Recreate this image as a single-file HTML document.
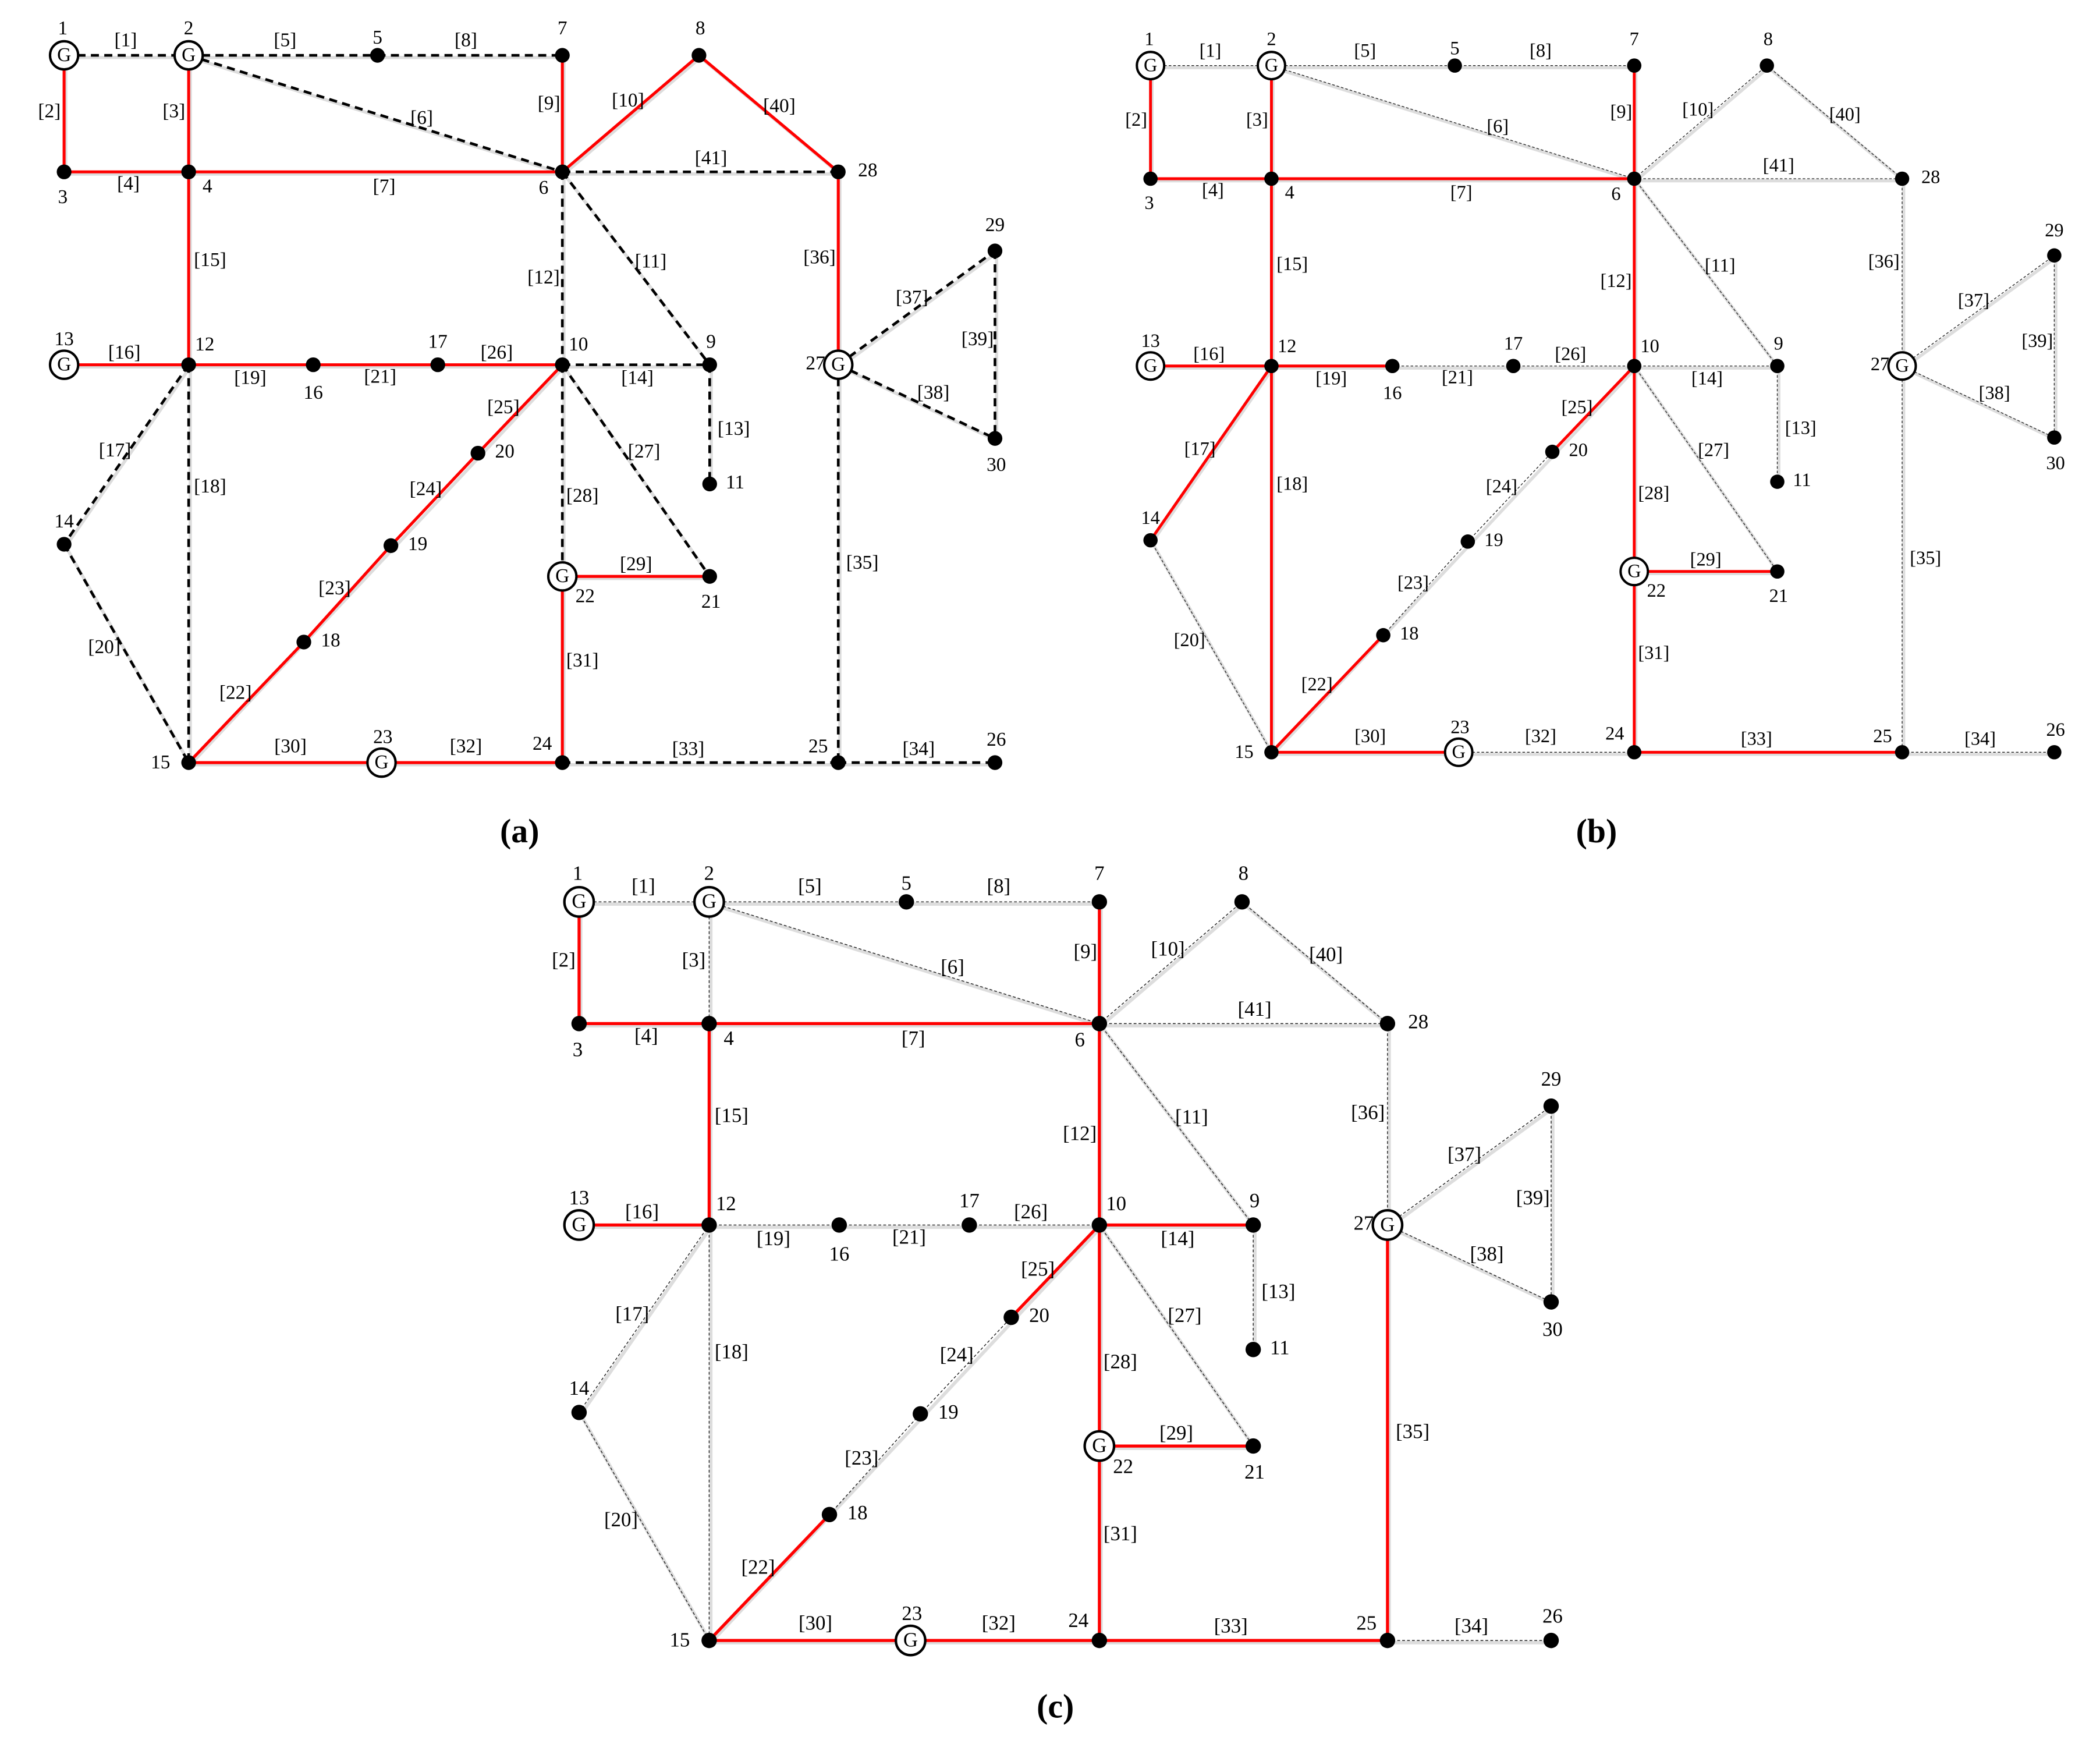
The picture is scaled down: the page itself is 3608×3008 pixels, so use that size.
<!DOCTYPE html>
<html><head><meta charset="utf-8"><style>
html,body{margin:0;padding:0;background:#fff;}
svg{display:block;}
text{font-family:"Liberation Serif",serif;font-size:14.5px;fill:#000;text-anchor:middle;dominant-baseline:middle;}
.r{stroke:#ff0000;stroke-width:2.2;fill:none;}
.d{stroke:#000;stroke-width:2;stroke-dasharray:6,4;fill:none;}
.g{stroke:#222;stroke-width:0.6;stroke-dasharray:2,1.5;fill:none;}
.s line{stroke:#ddd;stroke-width:2.4;}
.t{font-size:25px;font-weight:bold;}
</style></head><body>
<svg width="3608" height="3008" viewBox="0 0 1560 1300.6" xmlns="http://www.w3.org/2000/svg">
<rect width="1560" height="1301" fill="#fff"/>

<!-- PANEL A -->
<g transform="translate(-0.16,0.3) scale(0.995)">
<g class="s" transform="translate(1.2,1.6)">
<line x1="48" y1="41" x2="141" y2="41"/><line x1="48" y1="41" x2="48" y2="128"/><line x1="141" y1="41" x2="141" y2="128"/><line x1="48" y1="128" x2="141" y2="128"/><line x1="141" y1="41" x2="282" y2="41"/><line x1="141" y1="41" x2="420" y2="128"/><line x1="141" y1="128" x2="420" y2="128"/><line x1="282" y1="41" x2="420" y2="41"/><line x1="420" y1="41" x2="420" y2="128"/><line x1="420" y1="128" x2="522" y2="41"/><line x1="420" y1="128" x2="530" y2="272"/><line x1="420" y1="128" x2="420" y2="272"/><line x1="530" y1="272" x2="530" y2="361"/><line x1="420" y1="272" x2="530" y2="272"/><line x1="141" y1="128" x2="141" y2="272"/><line x1="48" y1="272" x2="141" y2="272"/><line x1="141" y1="272" x2="48" y2="406"/><line x1="141" y1="272" x2="141" y2="569"/><line x1="141" y1="272" x2="234" y2="272"/><line x1="48" y1="406" x2="141" y2="569"/><line x1="234" y1="272" x2="327" y2="272"/><line x1="141" y1="569" x2="420" y2="272"/><line x1="327" y1="272" x2="420" y2="272"/><line x1="420" y1="272" x2="530" y2="430"/><line x1="420" y1="272" x2="420" y2="569"/><line x1="420" y1="430" x2="530" y2="430"/><line x1="141" y1="569" x2="743" y2="569"/><line x1="626" y1="272" x2="626" y2="569"/><line x1="626" y1="128" x2="626" y2="272"/><line x1="626" y1="272" x2="743" y2="187"/><line x1="626" y1="272" x2="743" y2="327"/><line x1="743" y1="187" x2="743" y2="327"/><line x1="522" y1="41" x2="626" y2="128"/><line x1="420" y1="128" x2="626" y2="128"/>
</g>
<line class="d" x1="48" y1="41" x2="141" y2="41"/>
<line class="r" x1="48" y1="41" x2="48" y2="128"/>
<line class="r" x1="141" y1="41" x2="141" y2="128"/>
<line class="r" x1="48" y1="128" x2="141" y2="128"/>
<line class="d" x1="141" y1="41" x2="282" y2="41"/>
<line class="d" x1="141" y1="41" x2="420" y2="128"/>
<line class="r" x1="141" y1="128" x2="420" y2="128"/>
<line class="d" x1="282" y1="41" x2="420" y2="41"/>
<line class="r" x1="420" y1="41" x2="420" y2="128"/>
<line class="r" x1="420" y1="128" x2="522" y2="41"/>
<line class="d" x1="420" y1="128" x2="530" y2="272"/>
<line class="d" x1="420" y1="128" x2="420" y2="272"/>
<line class="d" x1="530" y1="272" x2="530" y2="361"/>
<line class="d" x1="420" y1="272" x2="530" y2="272"/>
<line class="r" x1="141" y1="128" x2="141" y2="272"/>
<line class="r" x1="48" y1="272" x2="141" y2="272"/>
<line class="d" x1="141" y1="272" x2="48" y2="406"/>
<line class="d" x1="141" y1="272" x2="141" y2="569"/>
<line class="r" x1="141" y1="272" x2="234" y2="272"/>
<line class="d" x1="48" y1="406" x2="141" y2="569"/>
<line class="r" x1="234" y1="272" x2="327" y2="272"/>
<line class="r" x1="141" y1="569" x2="227" y2="479"/>
<line class="r" x1="227" y1="479" x2="292" y2="407"/>
<line class="r" x1="292" y1="407" x2="357" y2="338"/>
<line class="r" x1="357" y1="338" x2="420" y2="272"/>
<line class="r" x1="327" y1="272" x2="420" y2="272"/>
<line class="d" x1="420" y1="272" x2="530" y2="430"/>
<line class="d" x1="420" y1="272" x2="420" y2="430"/>
<line class="r" x1="420" y1="430" x2="530" y2="430"/>
<line class="r" x1="141" y1="569" x2="285" y2="569"/>
<line class="r" x1="420" y1="430" x2="420" y2="569"/>
<line class="r" x1="285" y1="569" x2="420" y2="569"/>
<line class="d" x1="420" y1="569" x2="626" y2="569"/>
<line class="d" x1="626" y1="569" x2="743" y2="569"/>
<line class="d" x1="626" y1="272" x2="626" y2="569"/>
<line class="r" x1="626" y1="128" x2="626" y2="272"/>
<line class="d" x1="626" y1="272" x2="743" y2="187"/>
<line class="d" x1="626" y1="272" x2="743" y2="327"/>
<line class="d" x1="743" y1="187" x2="743" y2="327"/>
<line class="r" x1="522" y1="41" x2="626" y2="128"/>
<line class="d" x1="420" y1="128" x2="626" y2="128"/>
<g fill="#000">
<circle cx="48" cy="128" r="5.5"/><circle cx="141" cy="128" r="5.5"/><circle cx="282" cy="41" r="5.5"/><circle cx="420" cy="128" r="5.5"/><circle cx="420" cy="41" r="5.5"/><circle cx="522" cy="41" r="5.5"/><circle cx="530" cy="272" r="5.5"/><circle cx="420" cy="272" r="5.5"/><circle cx="530" cy="361" r="5.5"/><circle cx="141" cy="272" r="5.5"/><circle cx="48" cy="406" r="5.5"/><circle cx="141" cy="569" r="5.5"/><circle cx="234" cy="272" r="5.5"/><circle cx="327" cy="272" r="5.5"/><circle cx="227" cy="479" r="5.5"/><circle cx="292" cy="407" r="5.5"/><circle cx="357" cy="338" r="5.5"/><circle cx="530" cy="430" r="5.5"/><circle cx="420" cy="569" r="5.5"/><circle cx="626" cy="569" r="5.5"/><circle cx="743" cy="569" r="5.5"/><circle cx="626" cy="128" r="5.5"/><circle cx="743" cy="187" r="5.5"/><circle cx="743" cy="327" r="5.5"/>
</g>
<g fill="#fff" stroke="#000" stroke-width="1.8">
<circle cx="48" cy="41" r="10.5"/><circle cx="141" cy="41" r="10.5"/><circle cx="48" cy="272" r="10.5"/><circle cx="420" cy="430" r="10.5"/><circle cx="285" cy="569" r="10.5"/><circle cx="626" cy="272" r="10.5"/>
</g>
<text x="48" y="42">G</text><text x="141" y="42">G</text><text x="48" y="273">G</text><text x="420" y="431">G</text><text x="285" y="570">G</text><text x="626" y="273">G</text>
<text x="94" y="31">[1]</text><text x="37" y="84">[2]</text><text x="130" y="84">[3]</text><text x="96" y="138">[4]</text><text x="213" y="31">[5]</text><text x="315" y="89">[6]</text><text x="287" y="140">[7]</text><text x="348" y="31">[8]</text><text x="410" y="78">[9]</text><text x="469" y="76">[10]</text><text x="582" y="80">[40]</text><text x="531" y="119">[41]</text><text x="486" y="196">[11]</text><text x="406" y="208">[12]</text><text x="612" y="193">[36]</text><text x="681" y="223">[37]</text><text x="730" y="254">[39]</text><text x="697" y="294">[38]</text><text x="157" y="195">[15]</text><text x="93" y="264">[16]</text><text x="187" y="283">[19]</text><text x="284" y="282">[21]</text><text x="371" y="264">[26]</text><text x="476" y="283">[14]</text><text x="548" y="321">[13]</text><text x="376" y="305">[25]</text><text x="481" y="338">[27]</text><text x="86" y="337">[17]</text><text x="157" y="364">[18]</text><text x="318" y="366">[24]</text><text x="435" y="371">[28]</text><text x="475" y="422">[29]</text><text x="250" y="440">[23]</text><text x="435" y="494">[31]</text><text x="644" y="421">[35]</text><text x="78" y="484">[20]</text><text x="176" y="518">[22]</text><text x="217" y="558">[30]</text><text x="348" y="558">[32]</text><text x="514" y="560">[33]</text><text x="686" y="560">[34]</text>
<text x="47" y="22">1</text><text x="141" y="22">2</text><text x="282" y="29">5</text><text x="420" y="22">7</text><text x="523" y="22">8</text><text x="47" y="148">3</text><text x="155" y="140">4</text><text x="406" y="141">6</text><text x="648" y="128">28</text><text x="743" y="169">29</text><text x="48" y="254">13</text><text x="153" y="258">12</text><text x="234" y="294">16</text><text x="327" y="256">17</text><text x="432" y="258">10</text><text x="531" y="256">9</text><text x="609" y="272">27</text><text x="744" y="348">30</text><text x="377" y="338">20</text><text x="549" y="361">11</text><text x="48" y="390">14</text><text x="312" y="407">19</text><text x="437" y="446">22</text><text x="531" y="450">21</text><text x="247" y="479">18</text><text x="120" y="570">15</text><text x="286" y="551">23</text><text x="405" y="556">24</text><text x="611" y="558">25</text><text x="744" y="553">26</text>
</g>

<!-- PANEL B -->
<g transform="translate(808.3,9.1) scale(0.966)">
<g class="s" transform="translate(1.2,1.6)">
<line x1="48" y1="41" x2="141" y2="41"/><line x1="48" y1="41" x2="48" y2="128"/><line x1="141" y1="41" x2="141" y2="128"/><line x1="48" y1="128" x2="141" y2="128"/><line x1="141" y1="41" x2="282" y2="41"/><line x1="141" y1="41" x2="420" y2="128"/><line x1="141" y1="128" x2="420" y2="128"/><line x1="282" y1="41" x2="420" y2="41"/><line x1="420" y1="41" x2="420" y2="128"/><line x1="420" y1="128" x2="522" y2="41"/><line x1="420" y1="128" x2="530" y2="272"/><line x1="420" y1="128" x2="420" y2="272"/><line x1="530" y1="272" x2="530" y2="361"/><line x1="420" y1="272" x2="530" y2="272"/><line x1="141" y1="128" x2="141" y2="272"/><line x1="48" y1="272" x2="141" y2="272"/><line x1="141" y1="272" x2="48" y2="406"/><line x1="141" y1="272" x2="141" y2="569"/><line x1="141" y1="272" x2="234" y2="272"/><line x1="48" y1="406" x2="141" y2="569"/><line x1="234" y1="272" x2="327" y2="272"/><line x1="141" y1="569" x2="420" y2="272"/><line x1="327" y1="272" x2="420" y2="272"/><line x1="420" y1="272" x2="530" y2="430"/><line x1="420" y1="272" x2="420" y2="569"/><line x1="420" y1="430" x2="530" y2="430"/><line x1="141" y1="569" x2="743" y2="569"/><line x1="626" y1="272" x2="626" y2="569"/><line x1="626" y1="128" x2="626" y2="272"/><line x1="626" y1="272" x2="743" y2="187"/><line x1="626" y1="272" x2="743" y2="327"/><line x1="743" y1="187" x2="743" y2="327"/><line x1="522" y1="41" x2="626" y2="128"/><line x1="420" y1="128" x2="626" y2="128"/>
</g>
<line class="g" x1="48" y1="41" x2="141" y2="41"/>
<line class="r" x1="48" y1="41" x2="48" y2="128"/>
<line class="r" x1="141" y1="41" x2="141" y2="128"/>
<line class="r" x1="48" y1="128" x2="141" y2="128"/>
<line class="g" x1="141" y1="41" x2="282" y2="41"/>
<line class="g" x1="141" y1="41" x2="420" y2="128"/>
<line class="r" x1="141" y1="128" x2="420" y2="128"/>
<line class="g" x1="282" y1="41" x2="420" y2="41"/>
<line class="r" x1="420" y1="41" x2="420" y2="128"/>
<line class="g" x1="420" y1="128" x2="522" y2="41"/>
<line class="g" x1="420" y1="128" x2="530" y2="272"/>
<line class="r" x1="420" y1="128" x2="420" y2="272"/>
<line class="g" x1="530" y1="272" x2="530" y2="361"/>
<line class="g" x1="420" y1="272" x2="530" y2="272"/>
<line class="r" x1="141" y1="128" x2="141" y2="272"/>
<line class="r" x1="48" y1="272" x2="141" y2="272"/>
<line class="r" x1="141" y1="272" x2="48" y2="406"/>
<line class="r" x1="141" y1="272" x2="141" y2="569"/>
<line class="r" x1="141" y1="272" x2="234" y2="272"/>
<line class="g" x1="48" y1="406" x2="141" y2="569"/>
<line class="g" x1="234" y1="272" x2="327" y2="272"/>
<line class="r" x1="141" y1="569" x2="227" y2="479"/>
<line class="g" x1="227" y1="479" x2="292" y2="407"/>
<line class="g" x1="292" y1="407" x2="357" y2="338"/>
<line class="r" x1="357" y1="338" x2="420" y2="272"/>
<line class="g" x1="327" y1="272" x2="420" y2="272"/>
<line class="g" x1="420" y1="272" x2="530" y2="430"/>
<line class="r" x1="420" y1="272" x2="420" y2="430"/>
<line class="r" x1="420" y1="430" x2="530" y2="430"/>
<line class="r" x1="141" y1="569" x2="285" y2="569"/>
<line class="r" x1="420" y1="430" x2="420" y2="569"/>
<line class="g" x1="285" y1="569" x2="420" y2="569"/>
<line class="r" x1="420" y1="569" x2="626" y2="569"/>
<line class="g" x1="626" y1="569" x2="743" y2="569"/>
<line class="g" x1="626" y1="272" x2="626" y2="569"/>
<line class="g" x1="626" y1="128" x2="626" y2="272"/>
<line class="g" x1="626" y1="272" x2="743" y2="187"/>
<line class="g" x1="626" y1="272" x2="743" y2="327"/>
<line class="g" x1="743" y1="187" x2="743" y2="327"/>
<line class="g" x1="522" y1="41" x2="626" y2="128"/>
<line class="g" x1="420" y1="128" x2="626" y2="128"/>
<g fill="#000">
<circle cx="48" cy="128" r="5.5"/><circle cx="141" cy="128" r="5.5"/><circle cx="282" cy="41" r="5.5"/><circle cx="420" cy="128" r="5.5"/><circle cx="420" cy="41" r="5.5"/><circle cx="522" cy="41" r="5.5"/><circle cx="530" cy="272" r="5.5"/><circle cx="420" cy="272" r="5.5"/><circle cx="530" cy="361" r="5.5"/><circle cx="141" cy="272" r="5.5"/><circle cx="48" cy="406" r="5.5"/><circle cx="141" cy="569" r="5.5"/><circle cx="234" cy="272" r="5.5"/><circle cx="327" cy="272" r="5.5"/><circle cx="227" cy="479" r="5.5"/><circle cx="292" cy="407" r="5.5"/><circle cx="357" cy="338" r="5.5"/><circle cx="530" cy="430" r="5.5"/><circle cx="420" cy="569" r="5.5"/><circle cx="626" cy="569" r="5.5"/><circle cx="743" cy="569" r="5.5"/><circle cx="626" cy="128" r="5.5"/><circle cx="743" cy="187" r="5.5"/><circle cx="743" cy="327" r="5.5"/>
</g>
<g fill="#fff" stroke="#000" stroke-width="1.8">
<circle cx="48" cy="41" r="10.5"/><circle cx="141" cy="41" r="10.5"/><circle cx="48" cy="272" r="10.5"/><circle cx="420" cy="430" r="10.5"/><circle cx="285" cy="569" r="10.5"/><circle cx="626" cy="272" r="10.5"/>
</g>
<text x="48" y="42">G</text><text x="141" y="42">G</text><text x="48" y="273">G</text><text x="420" y="431">G</text><text x="285" y="570">G</text><text x="626" y="273">G</text>
<text x="94" y="31">[1]</text><text x="37" y="84">[2]</text><text x="130" y="84">[3]</text><text x="96" y="138">[4]</text><text x="213" y="31">[5]</text><text x="315" y="89">[6]</text><text x="287" y="140">[7]</text><text x="348" y="31">[8]</text><text x="410" y="78">[9]</text><text x="469" y="76">[10]</text><text x="582" y="80">[40]</text><text x="531" y="119">[41]</text><text x="486" y="196">[11]</text><text x="406" y="208">[12]</text><text x="612" y="193">[36]</text><text x="681" y="223">[37]</text><text x="730" y="254">[39]</text><text x="697" y="294">[38]</text><text x="157" y="195">[15]</text><text x="93" y="264">[16]</text><text x="187" y="283">[19]</text><text x="284" y="282">[21]</text><text x="371" y="264">[26]</text><text x="476" y="283">[14]</text><text x="548" y="321">[13]</text><text x="376" y="305">[25]</text><text x="481" y="338">[27]</text><text x="86" y="337">[17]</text><text x="157" y="364">[18]</text><text x="318" y="366">[24]</text><text x="435" y="371">[28]</text><text x="475" y="422">[29]</text><text x="250" y="440">[23]</text><text x="435" y="494">[31]</text><text x="644" y="421">[35]</text><text x="78" y="484">[20]</text><text x="176" y="518">[22]</text><text x="217" y="558">[30]</text><text x="348" y="558">[32]</text><text x="514" y="560">[33]</text><text x="686" y="560">[34]</text>
<text x="47" y="22">1</text><text x="141" y="22">2</text><text x="282" y="29">5</text><text x="420" y="22">7</text><text x="523" y="22">8</text><text x="47" y="148">3</text><text x="155" y="140">4</text><text x="406" y="141">6</text><text x="648" y="128">28</text><text x="743" y="169">29</text><text x="48" y="254">13</text><text x="153" y="258">12</text><text x="234" y="294">16</text><text x="327" y="256">17</text><text x="432" y="258">10</text><text x="531" y="256">9</text><text x="609" y="272">27</text><text x="744" y="348">30</text><text x="377" y="338">20</text><text x="549" y="361">11</text><text x="48" y="390">14</text><text x="312" y="407">19</text><text x="437" y="446">22</text><text x="531" y="450">21</text><text x="247" y="479">18</text><text x="120" y="570">15</text><text x="286" y="551">23</text><text x="405" y="556">24</text><text x="611" y="558">25</text><text x="744" y="553">26</text>
</g>

<!-- PANEL C -->
<g transform="translate(380.3,627.3) scale(1.039)">
<g class="s" transform="translate(1.2,1.6)">
<line x1="48" y1="41" x2="141" y2="41"/><line x1="48" y1="41" x2="48" y2="128"/><line x1="141" y1="41" x2="141" y2="128"/><line x1="48" y1="128" x2="141" y2="128"/><line x1="141" y1="41" x2="282" y2="41"/><line x1="141" y1="41" x2="420" y2="128"/><line x1="141" y1="128" x2="420" y2="128"/><line x1="282" y1="41" x2="420" y2="41"/><line x1="420" y1="41" x2="420" y2="128"/><line x1="420" y1="128" x2="522" y2="41"/><line x1="420" y1="128" x2="530" y2="272"/><line x1="420" y1="128" x2="420" y2="272"/><line x1="530" y1="272" x2="530" y2="361"/><line x1="420" y1="272" x2="530" y2="272"/><line x1="141" y1="128" x2="141" y2="272"/><line x1="48" y1="272" x2="141" y2="272"/><line x1="141" y1="272" x2="48" y2="406"/><line x1="141" y1="272" x2="141" y2="569"/><line x1="141" y1="272" x2="234" y2="272"/><line x1="48" y1="406" x2="141" y2="569"/><line x1="234" y1="272" x2="327" y2="272"/><line x1="141" y1="569" x2="420" y2="272"/><line x1="327" y1="272" x2="420" y2="272"/><line x1="420" y1="272" x2="530" y2="430"/><line x1="420" y1="272" x2="420" y2="569"/><line x1="420" y1="430" x2="530" y2="430"/><line x1="141" y1="569" x2="743" y2="569"/><line x1="626" y1="272" x2="626" y2="569"/><line x1="626" y1="128" x2="626" y2="272"/><line x1="626" y1="272" x2="743" y2="187"/><line x1="626" y1="272" x2="743" y2="327"/><line x1="743" y1="187" x2="743" y2="327"/><line x1="522" y1="41" x2="626" y2="128"/><line x1="420" y1="128" x2="626" y2="128"/>
</g>
<line class="g" x1="48" y1="41" x2="141" y2="41"/>
<line class="r" x1="48" y1="41" x2="48" y2="128"/>
<line class="g" x1="141" y1="41" x2="141" y2="128"/>
<line class="r" x1="48" y1="128" x2="141" y2="128"/>
<line class="g" x1="141" y1="41" x2="282" y2="41"/>
<line class="g" x1="141" y1="41" x2="420" y2="128"/>
<line class="r" x1="141" y1="128" x2="420" y2="128"/>
<line class="g" x1="282" y1="41" x2="420" y2="41"/>
<line class="r" x1="420" y1="41" x2="420" y2="128"/>
<line class="g" x1="420" y1="128" x2="522" y2="41"/>
<line class="g" x1="420" y1="128" x2="530" y2="272"/>
<line class="r" x1="420" y1="128" x2="420" y2="272"/>
<line class="g" x1="530" y1="272" x2="530" y2="361"/>
<line class="r" x1="420" y1="272" x2="530" y2="272"/>
<line class="r" x1="141" y1="128" x2="141" y2="272"/>
<line class="r" x1="48" y1="272" x2="141" y2="272"/>
<line class="g" x1="141" y1="272" x2="48" y2="406"/>
<line class="g" x1="141" y1="272" x2="141" y2="569"/>
<line class="g" x1="141" y1="272" x2="234" y2="272"/>
<line class="g" x1="48" y1="406" x2="141" y2="569"/>
<line class="g" x1="234" y1="272" x2="327" y2="272"/>
<line class="r" x1="141" y1="569" x2="227" y2="479"/>
<line class="g" x1="227" y1="479" x2="292" y2="407"/>
<line class="g" x1="292" y1="407" x2="357" y2="338"/>
<line class="r" x1="357" y1="338" x2="420" y2="272"/>
<line class="g" x1="327" y1="272" x2="420" y2="272"/>
<line class="g" x1="420" y1="272" x2="530" y2="430"/>
<line class="r" x1="420" y1="272" x2="420" y2="430"/>
<line class="r" x1="420" y1="430" x2="530" y2="430"/>
<line class="r" x1="141" y1="569" x2="285" y2="569"/>
<line class="r" x1="420" y1="430" x2="420" y2="569"/>
<line class="r" x1="285" y1="569" x2="420" y2="569"/>
<line class="r" x1="420" y1="569" x2="626" y2="569"/>
<line class="g" x1="626" y1="569" x2="743" y2="569"/>
<line class="r" x1="626" y1="272" x2="626" y2="569"/>
<line class="g" x1="626" y1="128" x2="626" y2="272"/>
<line class="g" x1="626" y1="272" x2="743" y2="187"/>
<line class="g" x1="626" y1="272" x2="743" y2="327"/>
<line class="g" x1="743" y1="187" x2="743" y2="327"/>
<line class="g" x1="522" y1="41" x2="626" y2="128"/>
<line class="g" x1="420" y1="128" x2="626" y2="128"/>
<g fill="#000">
<circle cx="48" cy="128" r="5.5"/><circle cx="141" cy="128" r="5.5"/><circle cx="282" cy="41" r="5.5"/><circle cx="420" cy="128" r="5.5"/><circle cx="420" cy="41" r="5.5"/><circle cx="522" cy="41" r="5.5"/><circle cx="530" cy="272" r="5.5"/><circle cx="420" cy="272" r="5.5"/><circle cx="530" cy="361" r="5.5"/><circle cx="141" cy="272" r="5.5"/><circle cx="48" cy="406" r="5.5"/><circle cx="141" cy="569" r="5.5"/><circle cx="234" cy="272" r="5.5"/><circle cx="327" cy="272" r="5.5"/><circle cx="227" cy="479" r="5.5"/><circle cx="292" cy="407" r="5.5"/><circle cx="357" cy="338" r="5.5"/><circle cx="530" cy="430" r="5.5"/><circle cx="420" cy="569" r="5.5"/><circle cx="626" cy="569" r="5.5"/><circle cx="743" cy="569" r="5.5"/><circle cx="626" cy="128" r="5.5"/><circle cx="743" cy="187" r="5.5"/><circle cx="743" cy="327" r="5.5"/>
</g>
<g fill="#fff" stroke="#000" stroke-width="1.8">
<circle cx="48" cy="41" r="10.5"/><circle cx="141" cy="41" r="10.5"/><circle cx="48" cy="272" r="10.5"/><circle cx="420" cy="430" r="10.5"/><circle cx="285" cy="569" r="10.5"/><circle cx="626" cy="272" r="10.5"/>
</g>
<text x="48" y="42">G</text><text x="141" y="42">G</text><text x="48" y="273">G</text><text x="420" y="431">G</text><text x="285" y="570">G</text><text x="626" y="273">G</text>
<text x="94" y="31">[1]</text><text x="37" y="84">[2]</text><text x="130" y="84">[3]</text><text x="96" y="138">[4]</text><text x="213" y="31">[5]</text><text x="315" y="89">[6]</text><text x="287" y="140">[7]</text><text x="348" y="31">[8]</text><text x="410" y="78">[9]</text><text x="469" y="76">[10]</text><text x="582" y="80">[40]</text><text x="531" y="119">[41]</text><text x="486" y="196">[11]</text><text x="406" y="208">[12]</text><text x="612" y="193">[36]</text><text x="681" y="223">[37]</text><text x="730" y="254">[39]</text><text x="697" y="294">[38]</text><text x="157" y="195">[15]</text><text x="93" y="264">[16]</text><text x="187" y="283">[19]</text><text x="284" y="282">[21]</text><text x="371" y="264">[26]</text><text x="476" y="283">[14]</text><text x="548" y="321">[13]</text><text x="376" y="305">[25]</text><text x="481" y="338">[27]</text><text x="86" y="337">[17]</text><text x="157" y="364">[18]</text><text x="318" y="366">[24]</text><text x="435" y="371">[28]</text><text x="475" y="422">[29]</text><text x="250" y="440">[23]</text><text x="435" y="494">[31]</text><text x="644" y="421">[35]</text><text x="78" y="484">[20]</text><text x="176" y="518">[22]</text><text x="217" y="558">[30]</text><text x="348" y="558">[32]</text><text x="514" y="560">[33]</text><text x="686" y="560">[34]</text>
<text x="47" y="22">1</text><text x="141" y="22">2</text><text x="282" y="29">5</text><text x="420" y="22">7</text><text x="523" y="22">8</text><text x="47" y="148">3</text><text x="155" y="140">4</text><text x="406" y="141">6</text><text x="648" y="128">28</text><text x="743" y="169">29</text><text x="48" y="254">13</text><text x="153" y="258">12</text><text x="234" y="294">16</text><text x="327" y="256">17</text><text x="432" y="258">10</text><text x="531" y="256">9</text><text x="609" y="272">27</text><text x="744" y="348">30</text><text x="377" y="338">20</text><text x="549" y="361">11</text><text x="48" y="390">14</text><text x="312" y="407">19</text><text x="437" y="446">22</text><text x="531" y="450">21</text><text x="247" y="479">18</text><text x="120" y="570">15</text><text x="286" y="551">23</text><text x="405" y="556">24</text><text x="611" y="558">25</text><text x="744" y="553">26</text>
</g>

<text class="t" x="386" y="620">(a)</text>
<text class="t" x="1186" y="620">(b)</text>
<text class="t" x="784" y="1270">(c)</text>
</svg>
</body></html>
